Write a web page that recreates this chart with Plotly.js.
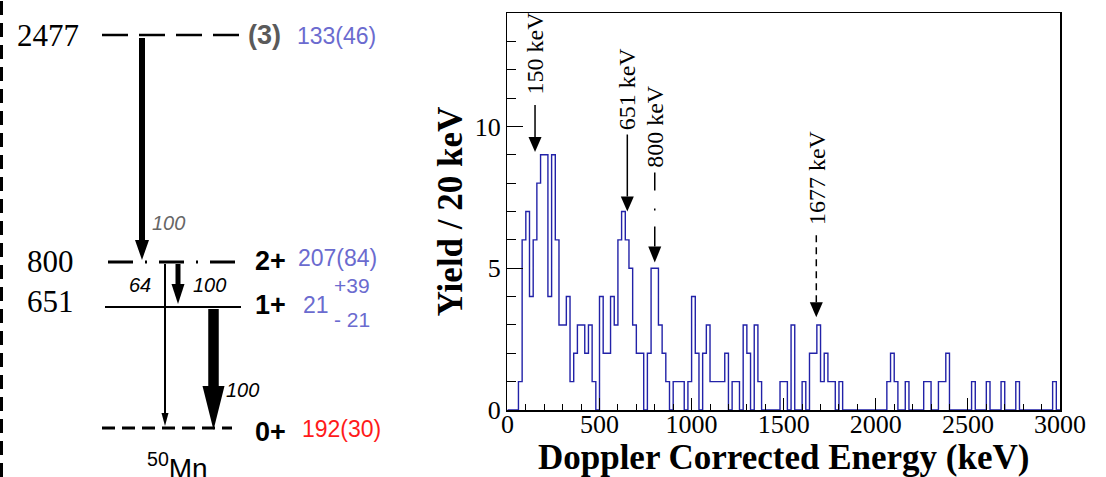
<!DOCTYPE html>
<html><head><meta charset="utf-8">
<script src="https://cdn.plot.ly/plotly-3.0.1.min.js"></script>
<style>html,body{margin:0;padding:0;background:#fff}#chart{width:1106px;height:477px}</style>
</head><body><div id="chart"></div>
<script>
// ---------------- spectrum data (20 keV bins from 0 to 3000 keV) ----------------
const binWidth = 20;
const counts = [
  0,0,0,1,6,   7,4,6,8,9,   9,4,9,6,3,   3,4,1,2,3,   3,2,3,1,0,
  4,2,2,4,3,   6,7,6,5,3,   2,2,0,2,5,   5,3,2,1,0,   1,1,1,0,1,
  4,2,0,2,3,   1,1,1,1,2,   0,1,1,0,3,   2,0,3,1,0,   0,0,0,0,1,
  1,0,3,0,0,   1,0,2,2,3,   1,2,1,1,0,   1,0,0,0,0,   0,0,0,0,0,
  0,0,0,1,2,   1,0,0,1,0,   0,0,0,1,1,   0,0,1,1,2,   0,0,0,0,0,
  0,1,0,0,0,   1,0,0,0,1,   0,0,0,1,0,   0,0,0,0,0,   0,0,0,1,0
];
const xTickVals = [0, 500, 1000, 1500, 2000, 2500, 3000];
const yTickVals = [0, 5, 10];
const peakLabels = ['150 keV', '651 keV', '800 keV', '1677 keV'];
const peakEnergies = [150, 651, 800, 1677];
const peakArrowTips = [9.1, 7.0, 5.2, 3.27];

// ---------------- level scheme data ----------------
const levelEnergies = ['2477', '800', '651', '0'];
const levelSpins = ['(3)', '2+', '1+', '0+'];
const levelValues = ['133(46)', '207(84)', '21', '192(30)'];
const levelValueErrors = ['', '', ['+39', '- 21'], ''];
const transitionBranches = ['100', '100', '64', '100'];
const nucleusLabel = '<sup>50</sup>Mn';

// ---------------- styling / layout positions ----------------
const W = 1106, H = 477;
const PX = p => p / W;
const PY = p => 1 - p / H;
const SERIF = 'Liberation Serif, Times New Roman, serif';
const SANS = 'Liberation Sans, Arial, sans-serif';
const BLUE_TXT = '#6b6bcf';

const edges = counts.map((c, i) => i * binWidth).concat([counts.length * binWidth]);
const stepY = counts.concat([counts[counts.length - 1]]);

const traces = [{
  type: 'scatter', mode: 'lines',
  x: edges, y: stepY,
  line: {shape: 'hv', color: '#2222a8', width: 1.4},
  hoverinfo: 'skip', cliponaxis: false
}];

const shapes = [];
const annotations = [];

// peak arrows in the spectrum
const peakHeadLen = [15, 15, 16, 15];
const peakLineTop = [47, 77, 90, 87];
const peakTextGap = [55, 79, 93, 90];
const peakDash = ['solid', 'solid', '20px,16px,2px,18px', '7px,5px'];
peakEnergies.forEach((e, i) => {
  shapes.push({
    type: 'line', xref: 'x', yref: 'y', x0: e, x1: e,
    ysizemode: 'pixel', yanchor: peakArrowTips[i], y0: peakHeadLen[i], y1: peakLineTop[i],
    line: {color: 'black', width: 1.5, dash: peakDash[i]}
  });
  shapes.push({
    type: 'path', xref: 'x', yref: 'y',
    xsizemode: 'pixel', xanchor: e, ysizemode: 'pixel', yanchor: peakArrowTips[i],
    path: `M -6.5,${peakHeadLen[i]} L 6.5,${peakHeadLen[i]} L 0,0 Z`,
    fillcolor: 'black', line: {width: 0}
  });
  annotations.push({
    xref: 'x', yref: 'y', x: e, y: peakArrowTips[i], yshift: peakTextGap[i],
    text: peakLabels[i], textangle: -90, showarrow: false,
    xanchor: 'center', yanchor: 'bottom',
    font: {family: SERIF, size: 24, color: 'black'}
  });
});

// ---- left panel: level scheme ----
shapes.push({type: 'line', xref: 'paper', yref: 'paper', x0: PX(1.5), x1: PX(1.5), y0: 0, y1: 1,
  line: {color: 'black', width: 3, dash: '14px,8px'}});

const levelY = [35, 262, 307, 428];
const levelX0 = [102, 108, 105, 102];
const levelX1 = [240, 236, 241, 232];
const levelW = [2.5, 3, 2, 3];
const levelDash = ['26px,11px', '25px,12px,2px,12px', 'solid', '13px,7px'];
levelY.forEach((y, i) => {
  shapes.push({type: 'line', xref: 'paper', yref: 'paper',
    x0: PX(levelX0[i]), x1: PX(levelX1[i]), y0: PY(y), y1: PY(y),
    line: {color: 'black', width: levelW[i], dash: levelDash[i]}});
});

const trans = [
  {x: 142, top: 38, head: 240, tip: 260, w: 6, hw: 14},
  {x: 178, top: 264, head: 284, tip: 304, w: 5, hw: 13},
  {x: 165, top: 264, head: 413, tip: 426, w: 2, hw: 7},
  {x: 213.5, top: 309, head: 386, tip: 430, w: 10.5, hw: 22}
];
trans.forEach(t => {
  shapes.push({type: 'line', xref: 'paper', yref: 'paper',
    x0: PX(t.x), x1: PX(t.x), y0: PY(t.top), y1: PY(t.head + 2),
    line: {color: 'black', width: t.w}});
  shapes.push({type: 'path', xref: 'paper', yref: 'paper',
    path: `M ${PX(t.x - t.hw / 2)},${PY(t.head)} L ${PX(t.x + t.hw / 2)},${PY(t.head)} L ${PX(t.x)},${PY(t.tip)} Z`,
    fillcolor: 'black', line: {width: 0}});
});

function txt(text, x, y, font, extra) {
  annotations.push(Object.assign({xref: 'paper', yref: 'paper', x: PX(x), y: PY(y), text: text,
    showarrow: false, xanchor: 'center', yanchor: 'middle', font: font}, extra || {}));
}
const energyPos = [[48, 36], [50, 261], [50, 301]];
energyPos.forEach((p, i) => txt(levelEnergies[i], p[0], p[1], {family: SERIF, size: 31, color: 'black'}));

txt('<b>' + levelSpins[0] + '</b>', 264, 35, {family: SANS, size: 27, color: '#5a5a5a'});
txt('<b>' + levelSpins[1] + '</b>', 270, 261, {family: SANS, size: 27, color: 'black'});
txt('<b>' + levelSpins[2] + '</b>', 270, 305, {family: SANS, size: 27, color: 'black'});
txt('<b>' + levelSpins[3] + '</b>', 270, 432, {family: SANS, size: 27, color: 'black'});

txt(levelValues[0], 336, 36, {family: SANS, size: 23, color: BLUE_TXT});
txt(levelValues[1], 337, 258, {family: SANS, size: 23, color: BLUE_TXT});
txt(levelValues[2], 316, 305, {family: SANS, size: 23, color: BLUE_TXT});
txt(levelValueErrors[2][0], 352, 285, {family: SANS, size: 21, color: BLUE_TXT});
txt(levelValueErrors[2][1], 352, 319, {family: SANS, size: 21, color: BLUE_TXT});
txt(levelValues[3], 341, 429, {family: SANS, size: 23, color: '#ff1a1a'});

txt('<i>' + transitionBranches[0] + '</i>', 168, 223, {family: SANS, size: 20, color: '#666666'});
txt('<i>' + transitionBranches[1] + '</i>', 209, 285, {family: SANS, size: 20, color: 'black'});
txt('<i>' + transitionBranches[2] + '</i>', 140, 285, {family: SANS, size: 20, color: 'black'});
txt('<i>' + transitionBranches[3] + '</i>', 242, 390, {family: SANS, size: 20, color: 'black'});

txt(nucleusLabel, 177, 466, {family: SANS, size: 28, color: 'black'});

const layout = {
  width: W, height: H,
  margin: {l: 0, r: 0, t: 0, b: 0},
  paper_bgcolor: 'white', plot_bgcolor: 'white',
  showlegend: false,
  xaxis: {
    domain: [507.4 / W, 1060 / W], range: [0, 3000], autorange: false,
    tickmode: 'array', tickvals: xTickVals,
    ticks: 'inside', ticklen: 12, tickwidth: 1, tickcolor: 'black',
    minor: {ticks: 'inside', ticklen: 6, dtick: 100, tick0: 0, tickcolor: 'black', showgrid: false},
    showline: true, linecolor: 'black', linewidth: 1.5, mirror: true,
    showgrid: false, zeroline: false, automargin: false,
    ticklabelstandoff: -10,
    tickfont: {family: SERIF, size: 26, color: 'black'},
    title: {text: '<b>Doppler Corrected Energy (keV)</b>', font: {family: SERIF, size: 35, color: 'black'}, standoff: 0}
  },
  yaxis: {
    domain: [1 - 410 / H, 1 - 13 / H], range: [0, 14], autorange: false,
    tickmode: 'array', tickvals: yTickVals,
    ticks: 'inside', ticklen: 16, tickwidth: 1, tickcolor: 'black',
    minor: {ticks: 'inside', ticklen: 9, dtick: 1, tick0: 0, tickcolor: 'black', showgrid: false},
    showline: true, linecolor: 'black', linewidth: 1.5, mirror: true,
    showgrid: false, zeroline: false, automargin: false,
    tickfont: {family: SERIF, size: 26, color: 'black'},
    title: {text: '<b>Yield / 20 keV</b>', font: {family: SERIF, size: 35, color: 'black'}, standoff: 1}
  },
  shapes: shapes,
  annotations: annotations
};

Plotly.newPlot('chart', traces, layout, {displayModeBar: false, staticPlot: true});
</script>
</body></html>
